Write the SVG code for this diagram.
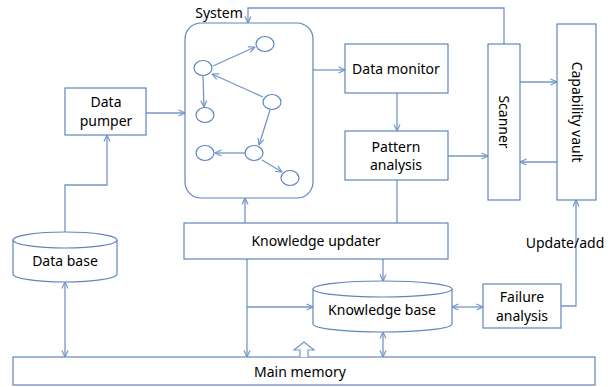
<svg xmlns="http://www.w3.org/2000/svg" width="614" height="387" viewBox="0 0 614 387">
<defs>
<style>
.box{fill:#fff;stroke:#5f86bd;stroke-width:1.2}
.ln{fill:none;stroke:#7596c6;stroke-width:1.3}
.nd{fill:#fff;stroke:#5f86bd;stroke-width:1.2}
text{font-family:"Noto Sans","Liberation Sans",sans-serif;font-size:14px;fill:#000;text-anchor:middle}
</style>
<marker id="a" viewBox="0 0 8 8" refX="7.5" refY="4" markerWidth="8" markerHeight="8" markerUnits="userSpaceOnUse" orient="auto-start-reverse">
<path d="M1,1 L7.5,4 L1,7" fill="none" stroke="#7596c6" stroke-width="1.2"/>
</marker>
</defs>
<rect width="614" height="387" fill="#fff"/>

<g id="connectors">
<path class="ln" d="M146,113 H185" marker-end="url(#a)"/>
<path class="ln" d="M65,232 V185 H107 V135" marker-end="url(#a)"/>
<path class="ln" d="M65,282 V357" marker-start="url(#a)" marker-end="url(#a)"/>
<path class="ln" d="M245,223 V198" marker-end="url(#a)"/>
<path class="ln" d="M247,259 V357" marker-end="url(#a)"/>
<path class="ln" d="M247,307 H313" marker-end="url(#a)"/>
<path class="ln" d="M383,259 V281" marker-end="url(#a)"/>
<path class="ln" d="M383,332 V357" marker-start="url(#a)" marker-end="url(#a)"/>
<path class="ln" d="M452,307 H483" marker-start="url(#a)" marker-end="url(#a)"/>
<path class="ln" d="M561,306 H576 V200" marker-end="url(#a)"/>
<path class="ln" d="M504,44 V8 H248 V23" marker-end="url(#a)"/>
<path class="ln" d="M313,70 H345" marker-end="url(#a)"/>
<path class="ln" d="M397,93 V131" marker-end="url(#a)"/>
<path class="ln" d="M448,156 H488" marker-end="url(#a)"/>
<path class="ln" d="M397,180 V223"/>
<path class="ln" d="M520,82 H557" marker-end="url(#a)"/>
<path class="ln" d="M557,162 H520" marker-end="url(#a)"/>
</g>

<g id="system">
<rect class="box" x="185" y="23" width="128" height="175" rx="16"/>
<text x="219" y="18" style="text-anchor:middle">System</text>
<g id="graph">
<path class="ln" d="M213,66 L255,47" marker-end="url(#a)"/>
<path class="ln" d="M203,76 L204,107" marker-end="url(#a)"/>
<path class="ln" d="M263,97 L212,74" marker-end="url(#a)"/>
<path class="ln" d="M270,110 L259,145" marker-end="url(#a)"/>
<path class="ln" d="M245,153 L215,153" marker-end="url(#a)"/>
<path class="ln" d="M262,160 L282,172" marker-end="url(#a)"/>
<ellipse class="nd" cx="265" cy="44" rx="9" ry="7.5"/>
<ellipse class="nd" cx="203" cy="68" rx="9" ry="7.5"/>
<ellipse class="nd" cx="205" cy="115" rx="9" ry="7.5"/>
<ellipse class="nd" cx="272" cy="102" rx="9" ry="7.5"/>
<ellipse class="nd" cx="205" cy="153" rx="9" ry="7.5"/>
<ellipse class="nd" cx="254" cy="153" rx="9" ry="7.5"/>
<ellipse class="nd" cx="290" cy="178" rx="9" ry="7.5"/>
</g>
</g>

<g id="data-pumper">
<rect class="box" x="65" y="88" width="81" height="47"/>
<text x="106" y="107">Data</text>
<text x="106" y="126">pumper</text>
</g>

<g id="data-base">
<path class="box" d="M13,240 V274 A52,8 0 0 0 117,274 V240"/>
<ellipse class="box" cx="65" cy="240" rx="52" ry="8"/>
<text x="65" y="266">Data base</text>
</g>

<g id="data-monitor">
<rect class="box" x="345" y="44" width="103" height="49"/>
<text x="396" y="74">Data monitor</text>
</g>

<g id="pattern-analysis">
<rect class="box" x="345" y="131" width="103" height="49"/>
<text x="396" y="152">Pattern</text>
<text x="396" y="170">analysis</text>
</g>

<g id="scanner">
<rect class="box" x="488" y="44" width="32" height="156"/>
<text transform="translate(499,122) rotate(90)">Scanner</text>
</g>

<g id="capability-vault">
<rect class="box" x="557" y="24" width="39" height="176"/>
<text transform="translate(572,112) rotate(90)">Capability vault</text>
</g>

<g id="knowledge-updater">
<rect class="box" x="184" y="223" width="264" height="36"/>
<text x="316" y="246">Knowledge updater</text>
</g>

<g id="knowledge-base">
<path class="box" d="M313,289 V324 A69.5,8 0 0 0 452,324 V289"/>
<ellipse class="box" cx="382.5" cy="289" rx="69.5" ry="8"/>
<text x="382" y="315">Knowledge base</text>
</g>

<g id="failure-analysis">
<rect class="box" x="483" y="284" width="78" height="44"/>
<text x="522" y="302">Failure</text>
<text x="522" y="321">analysis</text>
</g>

<text x="565" y="248">Update/add</text>

<g id="main-memory">
<rect class="box" x="13" y="357" width="582" height="28"/>
<text x="300" y="377">Main memory</text>
<path class="box" d="M300,357 V350 H294 L304,342 L314,350 H308 V357" style="stroke:#7596c6"/>
</g>
</svg>
